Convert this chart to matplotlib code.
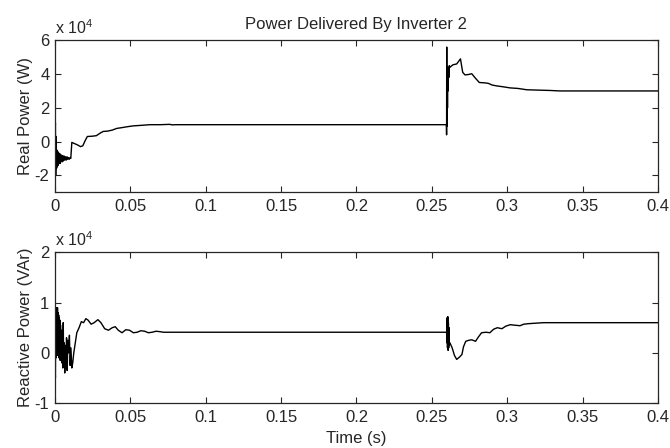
import matplotlib
matplotlib.use("Agg")
import matplotlib.pyplot as plt

plt.rcParams["font.family"] = ["Liberation Sans", "DejaVu Sans"]
plt.rcParams["mathtext.fontset"] = "custom"
plt.rcParams["mathtext.rm"] = "Liberation Sans"

# time axis ticks
x_ticks = [0, 0.05, 0.1, 0.15, 0.2, 0.25, 0.3, 0.35, 0.4]
x_tick_labels = ["0", "0.05", "0.1", "0.15", "0.2", "0.25", "0.3", "0.35", "0.4"]

# real power, values in units of 1e4 W
p_time = [0.0, 0.0003, 0.0005, 0.0008, 0.0010, 0.0013, 0.0016, 0.0019, 0.0022,
          0.0025, 0.0028, 0.0031, 0.0034, 0.0037, 0.0040, 0.0044, 0.0048,
          0.0052, 0.0056, 0.0060, 0.0065, 0.0070, 0.0075, 0.0080, 0.0085,
          0.0090, 0.0095, 0.0100, 0.0105, 0.0108, 0.0112, 0.0130, 0.0150,
          0.0170, 0.0185, 0.0200, 0.0215, 0.0250, 0.0275, 0.0300, 0.0320,
          0.0350, 0.0380, 0.0410, 0.0440, 0.0480, 0.0520, 0.0570, 0.0630,
          0.0700, 0.0760, 0.0780, 0.0800, 0.2597, 0.2598, 0.2599, 0.2600,
          0.2602, 0.2604, 0.2606, 0.2608, 0.2610, 0.2613, 0.2616, 0.2620,
          0.2640, 0.2665, 0.2690, 0.2705, 0.2720, 0.2740, 0.2765, 0.2790,
          0.2815, 0.2850, 0.2875, 0.2900, 0.2930, 0.2970, 0.3020, 0.3070,
          0.3130, 0.3200, 0.3280, 0.3350, 0.4000]
p_value = [0.0, 1.1, -2.0, 0.3, -1.6, -0.5, -1.5, -0.6, -1.4,
           -0.7, -1.3, -0.7, -1.3, -0.8, -1.2, -0.8, -1.2,
           -0.85, -1.15, -0.85, -1.1, -0.9, -1.1, -0.9, -1.05,
           -0.95, -1.05, -0.95, -1.0, -0.6, -0.05, -0.12, -0.2,
           -0.3, -0.25, 0.05, 0.3, 0.32, 0.35, 0.5, 0.6,
           0.62, 0.68, 0.78, 0.82, 0.88, 0.93, 0.96, 1.0,
           1.0, 1.02, 0.99, 1.0, 1.0, 0.4, 5.6, 0.9,
           4.3, 2.0, 4.4, 3.0, 4.4, 3.8, 4.5, 4.4,
           4.55, 4.6, 4.9, 4.1, 3.95, 3.97, 4.02, 3.75,
           3.5, 3.48, 3.45, 3.35, 3.3, 3.25, 3.18, 3.15,
           3.07, 3.05, 3.03, 3.0, 3.0]

# reactive power, values in units of 1e4 VAr
q_time = [0.0, 0.0003, 0.0005, 0.0007, 0.0009, 0.0011, 0.0013, 0.0015, 0.0017,
          0.0019, 0.0021, 0.0023, 0.0025, 0.0027, 0.0029, 0.0031, 0.0033,
          0.0035, 0.0037, 0.0040, 0.0043, 0.0046, 0.0049, 0.0052, 0.0055,
          0.0058, 0.0061, 0.0065, 0.0069, 0.0073, 0.0077, 0.0081, 0.0086,
          0.0091, 0.0096, 0.0101, 0.0106, 0.0112, 0.0118, 0.0125, 0.0135,
          0.0145, 0.0160, 0.0175, 0.0190, 0.0205, 0.0220, 0.0240, 0.0260,
          0.0285, 0.0305, 0.0330, 0.0355, 0.0380, 0.0400, 0.0420, 0.0445,
          0.0470, 0.0495, 0.0520, 0.0545, 0.0570, 0.0595, 0.0620, 0.0645,
          0.0670, 0.0700, 0.0720, 0.2598, 0.2600, 0.2602, 0.2604, 0.2606,
          0.2608, 0.2610, 0.2612, 0.2614, 0.2616, 0.2620, 0.2635, 0.2650,
          0.2665, 0.2685, 0.2700, 0.2710, 0.2725, 0.2745, 0.2765, 0.2790,
          0.2810, 0.2830, 0.2860, 0.2885, 0.2910, 0.2935, 0.2965, 0.2990,
          0.3020, 0.3050, 0.3085, 0.3110, 0.3140, 0.3190, 0.3240, 0.4000]
q_value = [0.0, -0.5, 0.8, -0.1, 0.9, 0.0, 0.85, 0.05, 0.9,
           -0.05, 0.8, 0.1, 0.75, -0.1, 0.7, 0.0, 0.65,
           -0.15, 0.55, -0.1, 0.45, -0.2, 0.35, -0.3, 0.6,
           -0.15, 0.2, -0.4, 0.15, -0.3, 0.3, -0.35, 0.25,
           0.0, 0.35, -0.25, 0.1, -0.3, -0.2, 0.0, 0.2,
           0.4, 0.5, 0.62, 0.6, 0.68, 0.65, 0.57, 0.6,
           0.66, 0.6, 0.48, 0.45, 0.5, 0.52, 0.45, 0.40,
           0.46, 0.45, 0.40, 0.41, 0.44, 0.43, 0.40, 0.41,
           0.43, 0.42, 0.41, 0.41, 0.2, 0.7, 0.1, 0.72,
           0.05, 0.6, 0.1, 0.5, 0.15, 0.2, 0.1, -0.05,
           -0.13, -0.08, -0.03, 0.12, 0.23, 0.25, 0.26, 0.23,
           0.32, 0.40, 0.41, 0.40, 0.47, 0.50, 0.48, 0.53,
           0.56, 0.55, 0.54, 0.57, 0.58, 0.59, 0.60, 0.60]

TXT = "#262626"


def style_axes(ax, ylim, yticks):
    ax.set_xlim(0, 0.4)
    ax.set_ylim(*ylim)
    ax.set_xticks(x_ticks)
    ax.set_xticklabels(x_tick_labels)
    ax.set_yticks(yticks)
    ax.set_yticklabels([str(v) for v in yticks])
    ax.tick_params(direction="in", top=True, right=True, length=4,
                   width=0.8, labelsize=12, colors=TXT)
    ax.tick_params(axis="x", pad=5)
    ax.tick_params(axis="y", pad=4)
    for sp in ax.spines.values():
        sp.set_linewidth(0.9)
        sp.set_color(TXT)
    ax.text(0.0, 1.02, r"x 10$^{4}$", transform=ax.transAxes,
            fontsize=11.5, ha="left", va="bottom", color=TXT)


fig = plt.figure(figsize=(6.7, 4.48), dpi=100)
ax1 = fig.add_axes([0.082, 0.571, 0.900, 0.339])
ax2 = fig.add_axes([0.082, 0.100, 0.900, 0.337])

ax1.plot(p_time, p_value, color="black", linewidth=1.0)
style_axes(ax1, (-3, 6), [-2, 0, 2, 4, 6])
ax1.set_ylabel("Real Power (W)", fontsize=12, color=TXT, labelpad=1)
ax1.set_title("Power Delivered By Inverter 2", fontsize=12, color=TXT, pad=8)

ax2.plot(q_time, q_value, color="black", linewidth=1.0)
style_axes(ax2, (-1, 2), [-1, 0, 1, 2])
ax2.set_ylabel("Reactive Power (VAr)", fontsize=12, color=TXT, labelpad=1)
ax2.set_xlabel("Time (s)", fontsize=12, color=TXT, labelpad=4)

fig.savefig("out.png", dpi=100)
